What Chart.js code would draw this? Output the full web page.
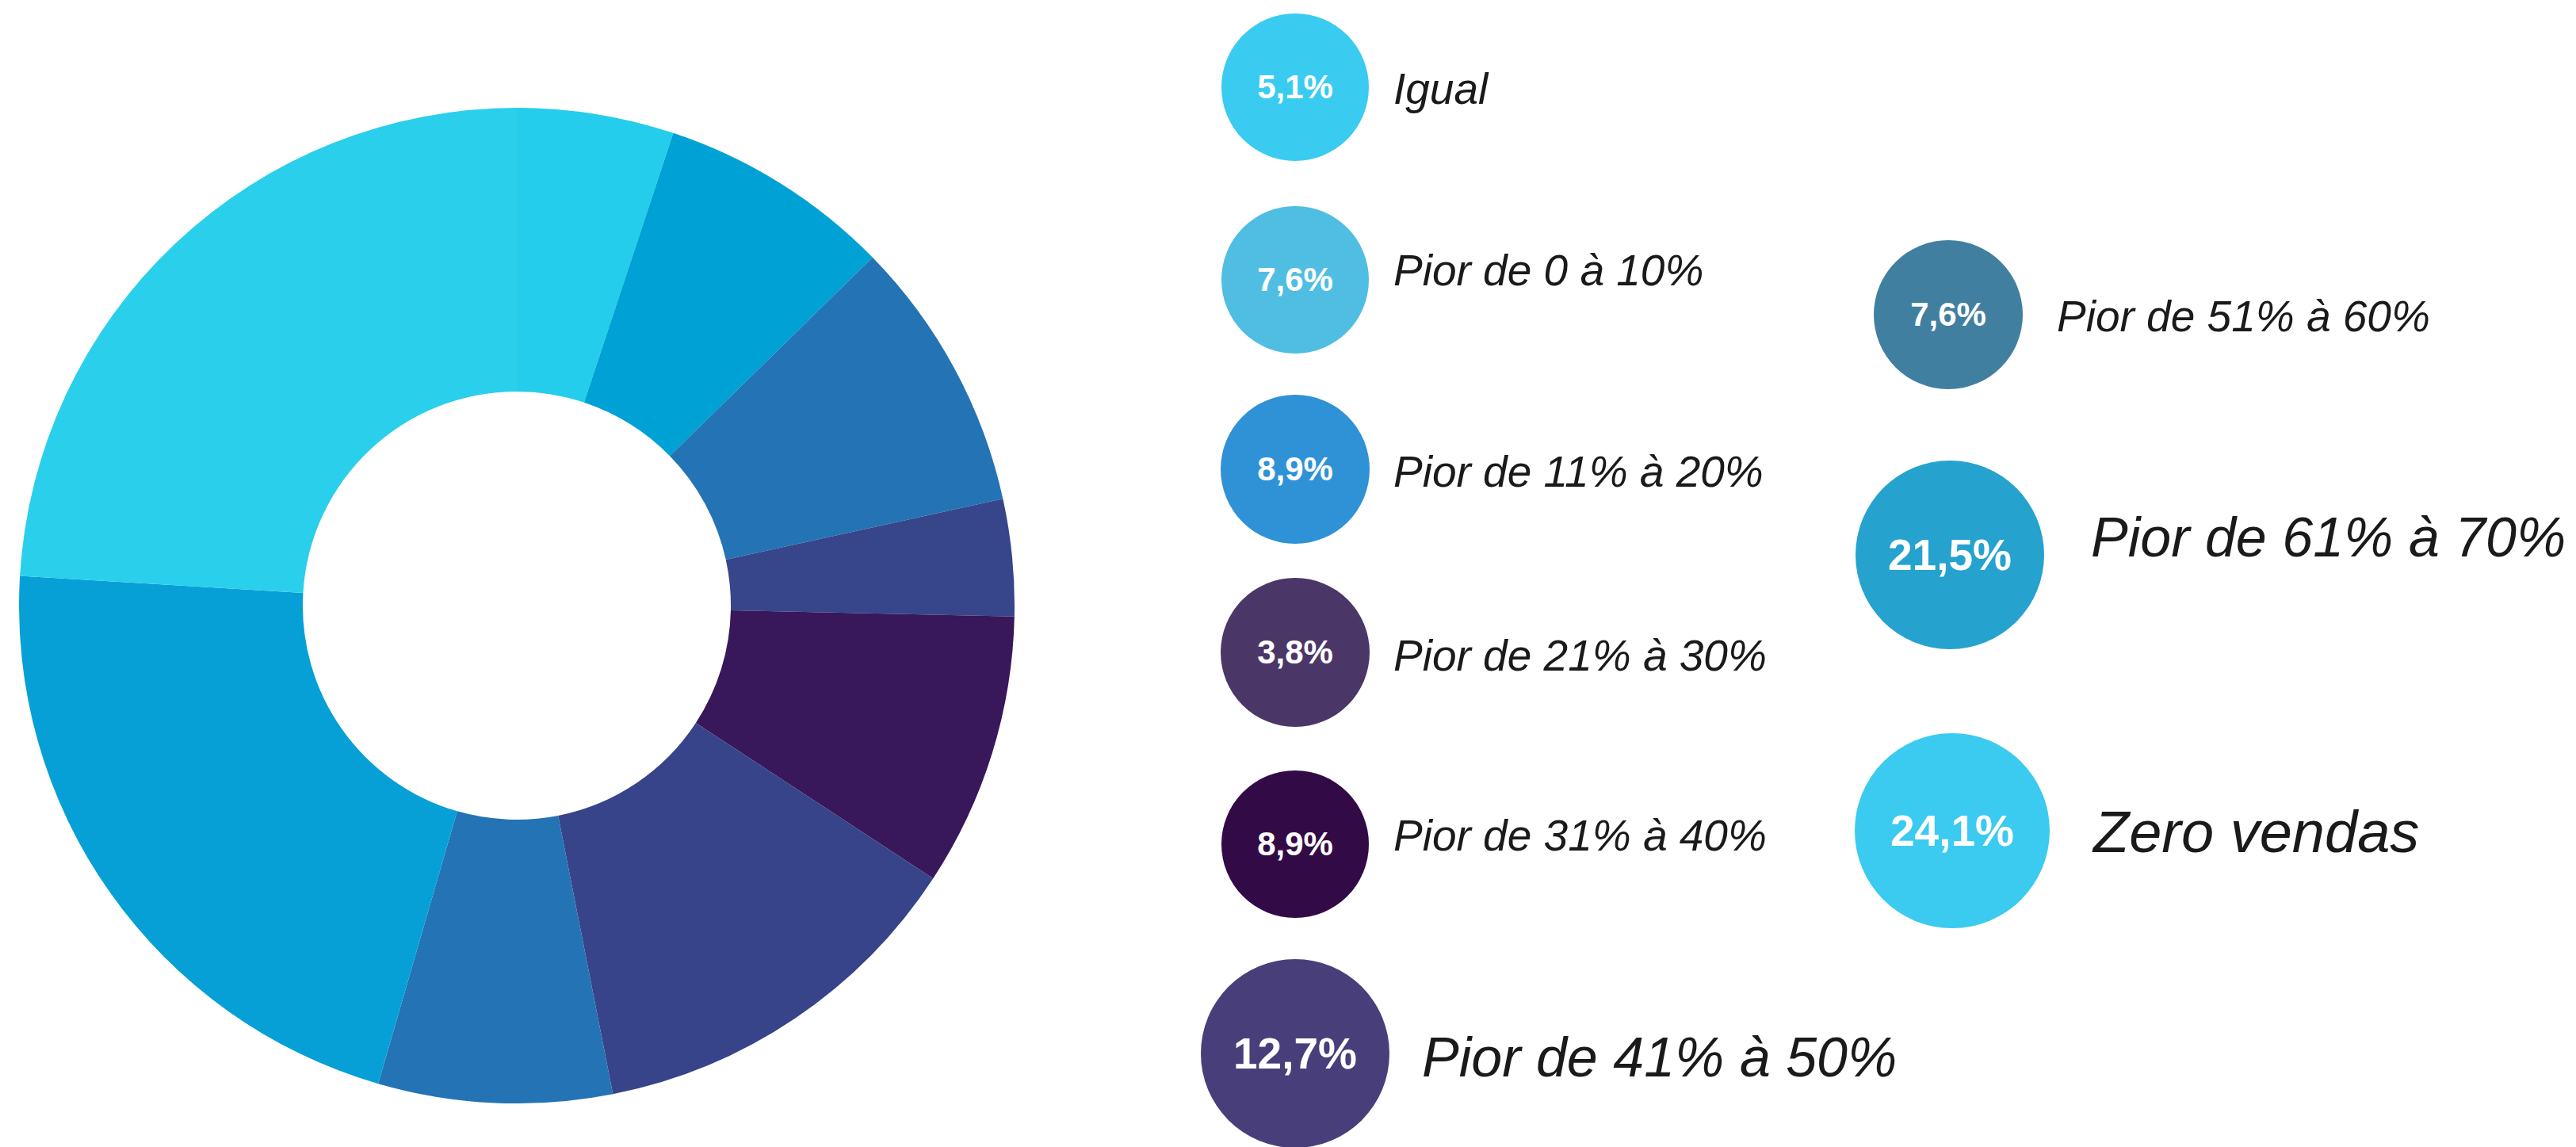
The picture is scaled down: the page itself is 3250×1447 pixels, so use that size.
<!DOCTYPE html>
<html>
<head>
<meta charset="utf-8">
<script src="https://cdn.jsdelivr.net/npm/chart.js@4.4.1/dist/chart.umd.min.js"></script>
<style>
    html, body {
        margin: 0;
        padding: 0;
        background: #ffffff;
    }
    #page {
        position: relative;
        width: 3250px;
        height: 1447px;
        overflow: hidden;
        background: #ffffff;
        font-family: "Liberation Sans", Arial, sans-serif;
    }
    #donut-box {
        position: absolute;
        left: 24px;
        top: 136px;
        width: 1256px;
        height: 1256px;
    }
    .bubble {
        position: absolute;
        border-radius: 50%;
        display: flex;
        align-items: center;
        justify-content: center;
        color: #ffffff;
        font-weight: bold;
        line-height: 1;
    }
    .label {
        position: absolute;
        font-style: italic;
        color: #1a1a1a;
        line-height: 1;
        white-space: nowrap;
        transform: translateY(-50%);
    }
</style>
</head>
<body>
<div id="page">
    <div id="donut-box"><canvas id="donut"></canvas></div>
    <div id="legend"></div>
</div>
<script>
// categories, clockwise from the top
const categories = [
    "Igual",
    "Pior de 0 à 10%",
    "Pior de 11% à 20%",
    "Pior de 21% à 30%",
    "Pior de 31% à 40%",
    "Pior de 41% à 50%",
    "Pior de 51% à 60%",
    "Pior de 61% à 70%",
    "Zero vendas",
];
const values = [5.1, 7.6, 8.9, 3.8, 8.9, 12.7, 7.6, 21.5, 24.1];

const sliceColors = [
    "#24cdeb", "#00a2d6", "#2473b5", "#37468a", "#38175a",
    "#37448a", "#2473b5", "#07a0d6", "#2acfec",
];
const bubbleColors = [
    "#3acbf1", "#50bee2", "#2f92d6", "#4b3767", "#320b46",
    "#483f7a", "#417fa0", "#26a2cf", "#3bcaf0",
];

// legend placement (bubble centre/radius, label x, label y, font sizes)
const bubbleX = [1634, 1634, 1634, 1634, 1634, 1634, 2458, 2460, 2463];
const bubbleY = [110, 353, 592, 823, 1065, 1329, 397, 700, 1048];
const bubbleR = [93, 93, 94, 94, 93, 119, 94, 119, 123];
const labelX = [1758, 1758, 1758, 1758, 1758, 1794, 2595, 2638, 2641];
const labelY = [112, 341, 595, 827, 1054, 1334, 399, 678, 1050];
const labelSize = [55, 55, 55, 55, 55, 70, 55, 70, 74];
const valueSize = [42, 42, 42, 42, 42, 55, 42, 55, 55];

const fmt = (v) => v.toFixed(1).replace(".", ",") + "%";

const buildLegend = () => {
    const legend = document.getElementById("legend");
    categories.forEach((name, i) => {
        const b = document.createElement("div");
        b.className = "bubble";
        b.style.left = bubbleX[i] - bubbleR[i] + "px";
        b.style.top = bubbleY[i] - bubbleR[i] + "px";
        b.style.width = bubbleR[i] * 2 + "px";
        b.style.height = bubbleR[i] * 2 + "px";
        b.style.background = bubbleColors[i];
        b.style.fontSize = valueSize[i] + "px";
        b.textContent = fmt(values[i]);
        legend.appendChild(b);

        const t = document.createElement("div");
        t.className = "label";
        t.style.left = labelX[i] + "px";
        t.style.top = labelY[i] + "px";
        t.style.fontSize = labelSize[i] + "px";
        t.textContent = name;
        legend.appendChild(t);
    });
};

const donutChart = () => {
    const ctx = document.getElementById("donut");
    if (!ctx) return;

    new Chart(ctx, {
        type: "doughnut",
        data: {
            labels: categories,
            datasets: [
                {
                    data: values,
                    backgroundColor: sliceColors,
                    borderWidth: 0,
                },
            ],
        },
        options: {
            responsive: true,
            maintainAspectRatio: false,
            animation: false,
            cutout: "43%",
            layout: { padding: 0 },
            plugins: {
                legend: { display: false },
                tooltip: { enabled: false },
            },
        },
    });
};

buildLegend();
donutChart();
</script>
</body>
</html>
